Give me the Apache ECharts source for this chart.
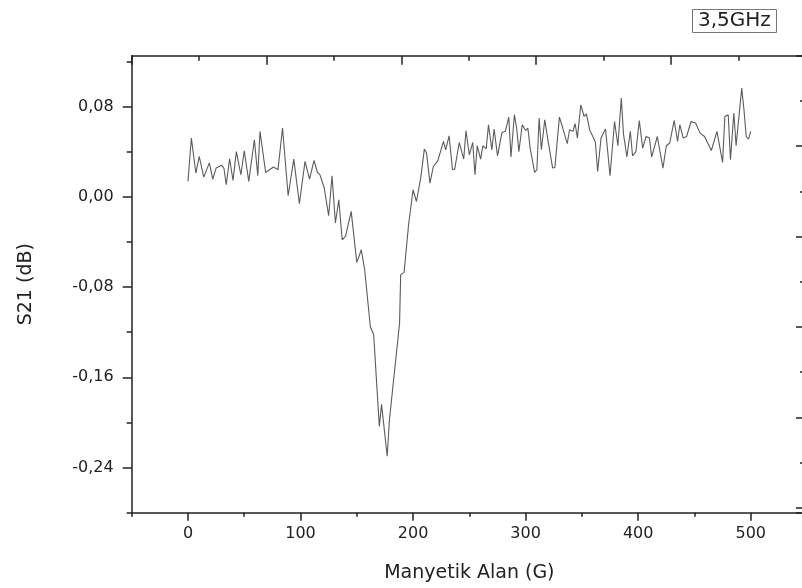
<!DOCTYPE html>
<html><head><meta charset="utf-8">
<script src="https://cdn.jsdelivr.net/npm/echarts@6/dist/echarts.min.js"></script>
<style>html,body{margin:0;padding:0;background:#fff}#c{width:802px;height:588px}</style>
</head><body><div id="c"></div>
<script>
// Magnetic field (G)
var fieldG = [0,3,7,10,14,19,22,25,30,32,34,37,40,43,47,50,54,59,62,64,69,76,80,84,89,94,99,104,108,112,115,117,121,125,128,131,134,137,140,145,150,154,157,162,165,170,172,177,179,184,188,189,192,196,200,203,207,210,212,215,218,222,227,229,232,235,237,241,245,247,250,253,255,257,260,262,265,267,270,272,275,279,282,285,287,290,292,294,297,300,302,304,308,310,312,314,317,320,324,326,330,333,337,339,342,344,346,349,352,354,357,360,362,364,367,371,375,379,382,385,387,390,393,395,398,401,404,407,410,412,417,422,425,428,432,435,437,440,443,447,451,455,459,465,470,475,477,480,482,485,487,492,494,496,498,500];
// S21 (dB)
var s21 = [0.0136,0.052,0.021,0.0357,0.0174,0.030,0.0157,0.0254,0.028,0.025,0.0106,0.0337,0.0145,0.040,0.0195,0.0408,0.0136,0.0505,0.0186,0.0579,0.0215,0.0263,0.024,0.0609,0.0009,0.0334,-0.0062,0.0313,0.0157,0.0322,0.0215,0.020,0.008,-0.0168,0.0186,-0.0233,-0.0027,-0.0381,-0.0352,-0.013,-0.0582,-0.047,-0.0647,-0.115,-0.1223,-0.2035,-0.184,-0.230,-0.1976,-0.150,-0.112,-0.069,-0.067,-0.0248,0.0062,-0.0042,0.018,0.0422,0.0387,0.0121,0.0268,0.032,0.049,0.0416,0.054,0.024,0.0245,0.0481,0.0334,0.0585,0.0372,0.0481,0.0195,0.0452,0.0334,0.0452,0.0425,0.0638,0.0416,0.060,0.0363,0.057,0.058,0.0706,0.0352,0.0727,0.0609,0.040,0.0638,0.0587,0.0609,0.0431,0.0215,0.024,0.0697,0.0416,0.0682,0.049,0.0254,0.026,0.0706,0.0609,0.047,0.0594,0.058,0.0647,0.052,0.0815,0.0711,0.0735,0.059,0.053,0.0481,0.0224,0.052,0.060,0.0186,0.0667,0.0452,0.0874,0.055,0.0352,0.058,0.0363,0.040,0.0676,0.0431,0.0534,0.052,0.0352,0.0534,0.0254,0.0452,0.0476,0.0676,0.049,0.0638,0.052,0.0534,0.0667,0.0653,0.0564,0.0534,0.041,0.058,0.0304,0.0711,0.0727,0.0328,0.0742,0.0452,0.0963,0.0771,0.0534,0.0511,0.058];
var xMajorTicks = [0,100,200,300,400,500];
var xMinorTicks = [-50,50,150,250,350,450,550];
var yMajorTicks = [-0.24,-0.16,-0.08,0,0.08];
var yMinorTicks = [-0.28,-0.20,-0.12,-0.04,0.04,0.12];
var xTitle = 'Manyetik Alan (G)';
var yTitle = 'S21 (dB)';
var label = '3,5GHz';

var font = 'DejaVu Sans';
var axisCol = '#222';
var pts = fieldG.map(function(x,i){return [x, s21[i]];});
var chart = echarts.init(document.getElementById('c'), null, {renderer:'canvas'});
chart.setOption({
  animation:false,
  backgroundColor:'#fff',
  title:{text:label,left:692,top:9,padding:[2,6],borderColor:'#777',borderWidth:1,
    textStyle:{fontFamily:font,fontSize:20,fontWeight:'normal',color:'#222'}},
  grid:{left:131.7,top:55.7,width:675.3,height:457,containLabel:false,outerBoundsMode:'none'},
  xAxis:[
    {type:'value',position:'bottom',min:-50,max:550,
     name:xTitle,nameLocation:'middle',nameGap:51,
     nameTextStyle:{fontFamily:font,fontSize:19,color:'#222'},
     axisLine:{onZero:false,lineStyle:{color:axisCol,width:1.5}},
     axisTick:{customValues:xMajorTicks,length:8,lineStyle:{color:axisCol,width:1.5}},
     axisLabel:{customValues:xMajorTicks,margin:13,fontFamily:font,fontSize:16,color:'#222'},
     splitLine:{show:false}},
    {type:'value',position:'bottom',min:-50,max:550,
     axisLine:{show:false,onZero:false},
     axisTick:{customValues:xMinorTicks,length:4,lineStyle:{color:axisCol,width:1.5}},
     axisLabel:{show:false},splitLine:{show:false}},
    {type:'value',position:'top',min:0,max:10.02,interval:2,
     axisLine:{onZero:false,lineStyle:{color:axisCol,width:1.5}},
     axisTick:{inside:true,length:9,lineStyle:{color:axisCol,width:1.5}},
     minorTick:{show:true,splitNumber:2,length:5,lineStyle:{color:axisCol,width:1.5}},
     axisLabel:{show:false},splitLine:{show:false}}
  ],
  yAxis:[
    {type:'value',position:'left',min:-0.28,max:0.125,
     name:yTitle,nameLocation:'middle',nameGap:96,
     nameTextStyle:{fontFamily:font,fontSize:19,color:'#222'},
     axisLine:{onZero:false,lineStyle:{color:axisCol,width:1.5}},
     axisTick:{customValues:yMajorTicks,length:9,lineStyle:{color:axisCol,width:1.5}},
     axisLabel:{customValues:yMajorTicks,margin:18,fontFamily:font,fontSize:16,color:'#222',
       formatter:function(v){return v.toFixed(2).replace('.',',');}},
     splitLine:{show:false}},
    {type:'value',position:'left',offset:0,min:-0.28,max:0.125,
     axisLine:{show:false,onZero:false},
     axisTick:{customValues:yMinorTicks,length:5,lineStyle:{color:axisCol,width:1.5}},
     axisLabel:{show:false},splitLine:{show:false}},
    {type:'value',position:'right',offset:0,min:0,max:10.11,inverse:true,interval:2,
     axisLine:{onZero:false,lineStyle:{color:axisCol,width:1.5}},
     axisTick:{inside:true,length:11,lineStyle:{color:axisCol,width:1.5}},
     minorTick:{show:true,splitNumber:2,length:7,lineStyle:{color:axisCol,width:1.5}},
     axisLabel:{show:false},splitLine:{show:false}}
  ],
  series:[{type:'line',xAxisIndex:0,yAxisIndex:0,data:pts,showSymbol:false,
    lineStyle:{color:'#5c5c5c',width:1.1},clip:false}]
});
</script></body></html>
